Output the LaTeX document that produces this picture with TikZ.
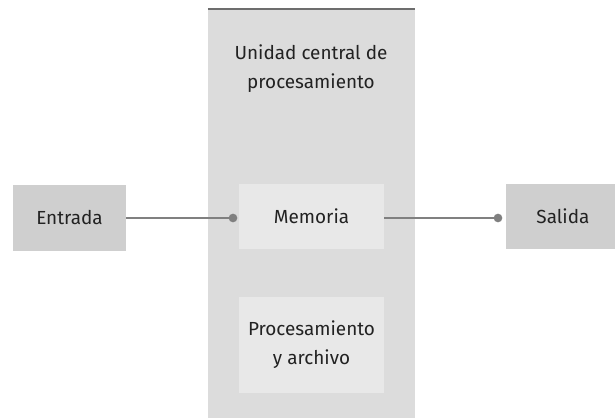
\documentclass[tikz,border=0pt]{standalone}
\usepackage{fontspec}
\setmainfont{Fira Sans}
\usetikzlibrary{positioning}
\definecolor{outerfill}{HTML}{CFCFCF}
\definecolor{cpufill}{HTML}{DCDCDC}
\definecolor{innerfill}{HTML}{E8E8E8}
\definecolor{linkgray}{HTML}{808080}
\definecolor{textgray}{HTML}{222222}
\begin{document}
\begin{tikzpicture}[x=0.75pt,y=-0.75pt,
    outerbox/.style={fill=outerfill, minimum width=85pt, minimum height=49pt, inner sep=0pt},
    innerbox/.style={fill=innerfill, minimum width=109pt, inner sep=0pt, align=center},
    link/.style={draw=linkgray, line width=1.6pt},
    dot/.style={circle, fill=linkgray, inner sep=0pt, minimum size=6.5pt},
    font=\fontsize{14.2}{21.75}\selectfont, text=textgray]
      \useasboundingbox (0,0) rectangle (615,418);
      % Draw the central unit
      \node[fill=cpufill, minimum width=155pt, minimum height=306.75pt, inner sep=0pt, anchor=north] at (311.5,9) (cpu) {};
      \draw[draw=linkgray!85!black, line width=1.5pt] (cpu.north west) -- (cpu.north east);
      \node[align=center] at (311,69) (title) {Unidad central de\\procesamiento};

      % Draw the inner boxes
      \node[innerbox, minimum height=49pt] at (311.5,216.5) (mem) {Memoria};
      \node[innerbox, minimum height=72pt] at (311.5,345) (proc) {Procesamiento\\y archivo};

      % Draw the input and output boxes
      \node[outerbox] at (69.5,218) (in) {Entrada};
      \node[outerbox, anchor=west] at (506,216.5) (out) {Salida};

      % Draw the links with their dots
      \node[dot] at (233,218) (indot) {};
      \node[dot] at (498,218) (outdot) {};
      \draw[link] (in.east) -- (indot.center);
      \draw[link] (mem.east |- outdot) -- (outdot.center);
\end{tikzpicture}
\end{document}
